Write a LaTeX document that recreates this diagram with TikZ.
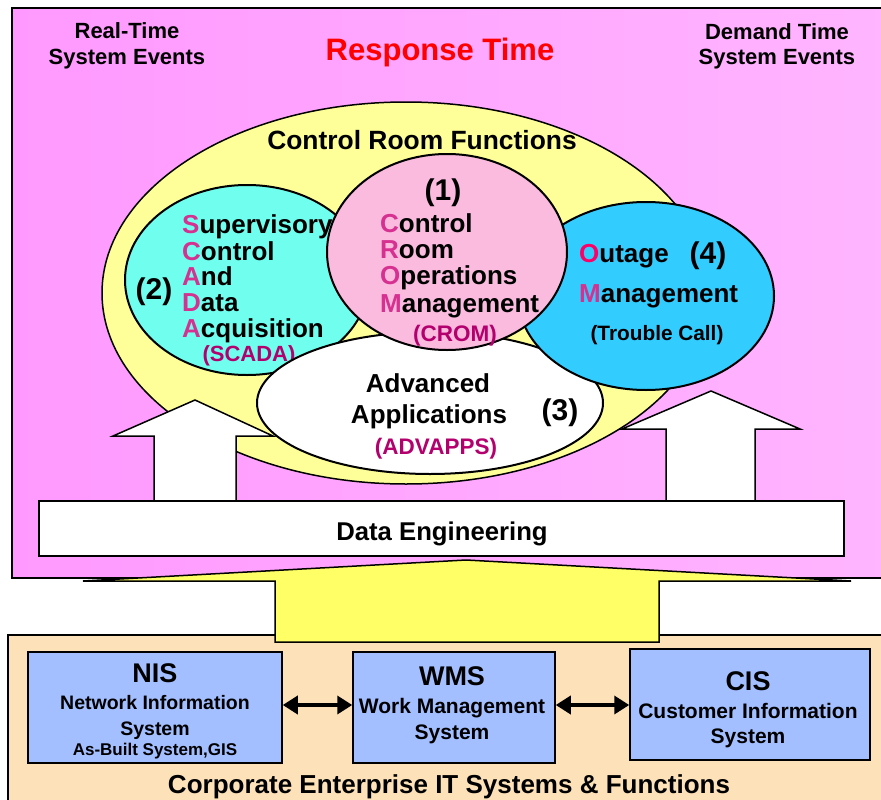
\documentclass[tikz,border=0pt]{standalone}
\usepackage{fontspec}
\setmainfont{Liberation Sans}
\usetikzlibrary{shapes.geometric,arrows.meta}
\definecolor{mypinkl}{RGB}{255,153,255}
\definecolor{mypinkr}{RGB}{255,181,255}
\definecolor{myyellow}{RGB}{255,255,153}
\definecolor{myarrow}{RGB}{255,255,102}
\definecolor{mycyan}{RGB}{112,255,238}
\definecolor{myrose}{RGB}{250,187,222}
\definecolor{myblue}{RGB}{51,204,255}
\definecolor{mysand}{RGB}{252,225,185}
\definecolor{mybox}{RGB}{163,191,255}
\definecolor{myinit}{RGB}{214,48,145}
\definecolor{myacr}{RGB}{180,0,110}
\definecolor{myout}{RGB}{255,0,102}
\newcommand\fsz[1]{\fontsize{#1}{#1}\selectfont}
\newcommand\ini[1]{\textcolor{myinit}{#1}}

\begin{document}
\begin{tikzpicture}[x=1pt,y=-1pt,font=\bfseries,
  bubble/.style={ellipse,draw,line width=2pt,inner sep=0pt},
  sysbox/.style={draw,line width=1.5pt,fill=mybox,inner sep=0pt},
  txt/.style={anchor=base,inner sep=0pt},
  ltxt/.style={anchor=base west,inner sep=0pt},
  twoway/.style={line width=3.5pt,{Triangle[length=15pt,width=18pt]}-{Triangle[length=15pt,width=18pt]}}]

\useasboundingbox (0,0) rectangle (881,800);

\draw[line width=1.5pt,left color=mypinkl,right color=mypinkr] (12,8) rectangle (890,578);
\draw[line width=1.5pt,fill=mysand] (8,635) rectangle (890,810);

\node[txt,font=\bfseries\fsz{22}] (rt1) at (127,39) {Real-Time};
\node[txt,font=\bfseries\fsz{22}] (rt2) at (127,64) {System Events};
\node[txt,font=\bfseries\fsz{31},text=red] (resp) at (440,60) {Response Time};
\node[txt,font=\bfseries\fsz{22}] (dt1) at (777,40) {Demand Time};
\node[txt,font=\bfseries\fsz{22}] (dt2) at (777,65) {System Events};

% control room
\node[bubble,line width=1.5pt,fill=myyellow,minimum width=608pt,minimum height=382pt] (crf) at (406,293) {};
\node[txt,font=\bfseries\fsz{26.4}] (crft) at (422,149) {Control Room Functions};

\draw[line width=1.5pt,fill=white] (154,501) -- (154,436) -- (113,436) -- (195,400) -- (273,436) -- (236,436) -- (236,501) -- cycle;
\draw[line width=1.5pt,fill=white] (666,501) -- (666,429) -- (622,429) -- (711,391) -- (800,429) -- (755,429) -- (755,501) -- cycle;

\node[bubble,fill=mycyan,minimum width=244pt,minimum height=190pt] (scada) at (247,280) {};
\node[ltxt,font=\bfseries\fsz{26}] (s1) at (182,233) {\ini{S}upervisory};
\node[ltxt,font=\bfseries\fsz{26}] (s2) at (182,260) {\ini{C}ontrol};
\node[ltxt,font=\bfseries\fsz{26}] (s3) at (182,285) {\ini{A}nd};
\node[ltxt,font=\bfseries\fsz{26}] (s4) at (182,311) {\ini{D}ata};
\node[ltxt,font=\bfseries\fsz{26}] (s5) at (182,337) {\ini{A}cquisition};
\node[txt,font=\bfseries\fsz{22}] (s6) at (249,361) {\textcolor{myacr}{(SCADA)}};
\node[txt,font=\bfseries\fsz{30}] (n2) at (154,299) {(2)};

\node[bubble,fill=white,minimum width=346pt,minimum height=142pt] (advapps) at (430,403) {};
\node[txt,font=\bfseries\fsz{26}] (a1) at (428,392) {Advanced};
\node[txt,font=\bfseries\fsz{26}] (a2) at (429,423) {Applications};
\node[txt,font=\bfseries\fsz{22.5},text=myacr] (a3) at (436,454) {(ADVAPPS)};
\node[txt,font=\bfseries\fsz{30}] (n3) at (560,420) {(3)};

\node[bubble,fill=myblue,minimum width=256pt,minimum height=188pt] (outage) at (646,296) {};
\node[ltxt,font=\bfseries\fsz{26}] (o1) at (579,262) {\textcolor{myout}{O}utage};
\node[ltxt,font=\bfseries\fsz{26}] (o2) at (579,302) {\ini{M}anagement};
\node[txt,font=\bfseries\fsz{20.8}] (o3) at (657,340) {(Trouble Call)};
\node[txt,font=\bfseries\fsz{30}] (n4) at (708,263) {(4)};

\node[bubble,fill=myrose,minimum width=240pt,minimum height=196pt] (crom) at (447,252) {};
\node[txt,font=\bfseries\fsz{30}] (n1) at (443,200) {(1)};
\node[ltxt,font=\bfseries\fsz{26}] (c1) at (380,232) {\ini{C}ontrol};
\node[ltxt,font=\bfseries\fsz{26}] (c2) at (380,258) {\ini{R}oom};
\node[ltxt,font=\bfseries\fsz{26}] (c3) at (380,284) {\ini{O}perations};
\node[ltxt,font=\bfseries\fsz{26}] (c4) at (380,312) {\ini{M}anagement};
\node[txt,font=\bfseries\fsz{22.5},text=myacr] (c5) at (455,341) {(CROM)};

\node[draw,line width=1.5pt,fill=white,minimum width=805pt,minimum height=55pt,inner sep=0pt] (de) at (441.5,528.5) {};
\node[txt,font=\bfseries\fsz{25.7}] (det) at (442,540) {Data Engineering};

\draw[line width=1.5pt,fill=myarrow] (275,642) -- (275,581) -- (83,581) -- (466,560) -- (851,581) -- (659,581) -- (659,642) -- cycle;

% enterprise systems
\node[sysbox,minimum width=254pt,minimum height=111pt] (nis) at (155,707.5) {};
\node[sysbox,minimum width=202pt,minimum height=111pt] (wms) at (454,707.5) {};
\node[sysbox,minimum width=240pt,minimum height=111pt] (cis) at (750,704.5) {};

\node[txt,font=\bfseries\fsz{27}] (nis1) at (155,682) {NIS};
\node[txt,font=\bfseries\fsz{19.5}] (nis2) at (155,709) {Network Information};
\node[txt,font=\bfseries\fsz{19.5}] (nis3) at (155,735) {System};
\node[txt,font=\bfseries\fsz{17}] (nis4) at (155,755) {As-Built System,GIS};

\node[txt,font=\bfseries\fsz{27}] (wms1) at (452,685) {WMS};
\node[txt,font=\bfseries\fsz{21}] (wms2) at (452,713) {Work Management};
\node[txt,font=\bfseries\fsz{21}] (wms3) at (452,739) {System};

\node[txt,font=\bfseries\fsz{27}] (cis1) at (748,690) {CIS};
\node[txt,font=\bfseries\fsz{21}] (cis2) at (748,718) {Customer Information};
\node[txt,font=\bfseries\fsz{21}] (cis3) at (748,743) {System};

\draw[twoway] (nis.east |- 0,705) -- (wms.west |- 0,705);
\draw[twoway] (wms.east |- 0,705) -- (cis.west |- 0,705);

\node[txt,font=\bfseries\fsz{26}] (corp) at (449,793) {Corporate Enterprise IT Systems \& Functions};
\end{tikzpicture}
\end{document}
